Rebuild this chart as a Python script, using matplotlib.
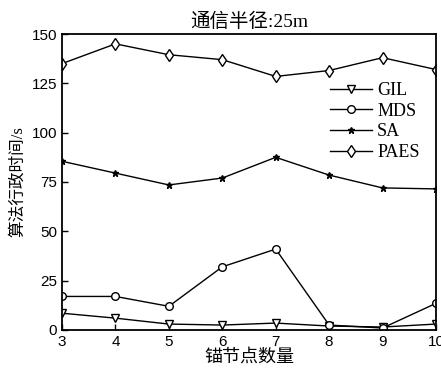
import matplotlib
matplotlib.use('Agg')
import matplotlib.pyplot as plt

plt.rcParams['font.family'] = ['Liberation Serif', 'Noto Sans CJK SC']

# anchor node count
anchors = [3, 4, 5, 6, 7, 8, 9, 10]

# run time (s) per algorithm
gil = [8.5, 6, 3, 2.5, 3.5, 2, 1.5, 3]
mds = [17, 17, 12, 32, 41, 2.5, 1, 13.5]
sa = [85.5, 79.5, 73.5, 77, 87.5, 78.5, 72, 71.5]
paes = [135, 145, 139.5, 137, 128.5, 131.5, 138, 132]

fig = plt.figure(figsize=(4.41, 3.68), dpi=100)
ax = fig.add_axes([0.1406, 0.1033, 0.848, 0.8043])

ax.plot(anchors, gil, color='black', lw=1, marker='v', ms=5.5, mfc='white', mec='black', label='GIL')
ax.plot(anchors, mds, color='black', lw=1, marker='o', ms=5.5, mfc='white', mec='black', label='MDS')
ax.plot(anchors, sa, color='black', lw=1, marker='*', ms=5, mfc='black', mec='black', label='SA')
ax.plot(anchors, paes, color='black', lw=1, marker='d', ms=6, mfc='white', mec='black', label='PAES')

ax.set_xlim(3, 10)
ax.set_ylim(0, 150)
ax.set_xticks(anchors)
ax.set_yticks([0, 25, 50, 75, 100, 125, 150])
ax.tick_params(direction='in', length=4, width=1, labelsize=11)
for lab in ax.get_xticklabels() + ax.get_yticklabels():
    lab.set_family(['Liberation Sans'])
for s in ax.spines.values():
    s.set_linewidth(1.3)

ax.set_title('通信半径:25m', fontsize=14, pad=5)
ax.set_xlabel('锚节点数量', fontsize=13, labelpad=0)
ax.set_ylabel('算法行政时间/s', fontsize=12, labelpad=4)

ax.legend(loc='upper right', bbox_to_anchor=(0.99, 0.88), frameon=False, fontsize=13,
          handlelength=2.3, handletextpad=0.3, labelspacing=0.2, borderpad=0.2)

fig.savefig('out.png', dpi=100)
